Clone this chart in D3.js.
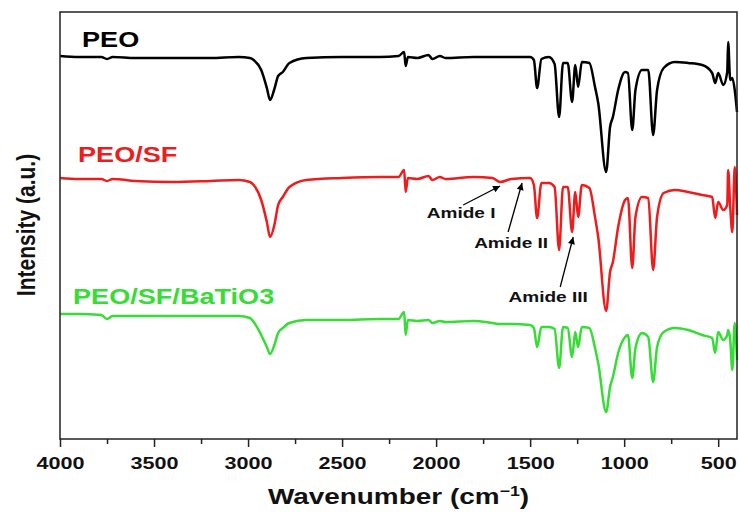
<!DOCTYPE html>
<html>
<head>
<meta charset="utf-8">
<script src="https://cdn.jsdelivr.net/npm/d3@7"></script>
<style>
  body { margin: 0; background: #fff; }
  text { font-family: "Liberation Sans", Arial, sans-serif; font-weight: bold; }
</style>
</head>
<body>
<div id="chart"></div>
<script>
// FTIR spectra (intensity in arbitrary units)
const wavenumbers = [4000, 3900, 3780, 3750, 3720, 3600, 3400, 3200, 3050, 2990,
    2970, 2930, 2900, 2883, 2860, 2840, 2815, 2780, 2690, 2500,
    2300, 2200, 2170, 2162, 2150, 2100, 2040, 2020, 1980, 1950,
    1800, 1700, 1660, 1600, 1500, 1480, 1463, 1440, 1400, 1370,
    1346, 1325, 1300, 1277, 1260, 1245, 1225, 1185, 1155, 1138,
    1096, 1075, 1060, 1032, 995, 980, 957, 940, 905, 872,
    846, 825, 790, 730, 660, 585, 532, 516, 500, 473,
    452, 447, 436, 425, 412, 400];

const peo = [383, 382, 382, 380, 382, 381, 381, 381, 382, 381,
    379, 369, 351, 339, 350, 363, 367, 376, 381, 382,
    382, 383, 387, 373, 382, 381, 384, 380, 383, 381,
    382, 382, 382, 382, 382, 379, 351, 380, 382, 375,
    322, 376, 376, 337, 374, 352, 377, 376, 352, 336,
    267, 312, 322, 349, 367, 366, 309, 349, 369, 369,
    304, 349, 371, 377, 376, 374, 366, 356, 366, 354,
    367, 397, 359, 361, 349, 327];

const peoSf = [261, 260, 260, 258, 260, 258, 257, 258, 259, 257,
    254, 239, 217, 202, 214, 234, 242, 252, 259, 261,
    262, 262, 269, 247, 261, 260, 263, 259, 262, 260,
    262, 261, 257, 260, 261, 254, 221, 256, 256, 252,
    189, 252, 252, 207, 247, 222, 254, 251, 222, 202,
    128, 167, 177, 212, 239, 241, 171, 222, 242, 241,
    169, 222, 246, 249, 247, 244, 242, 221, 237, 229,
    234, 269, 232, 207, 272, 224];

const peoSfBto = [125, 125, 124, 120, 123, 123, 123, 123, 123, 121,
    117, 104, 92, 85, 94, 106, 111, 116, 119, 119,
    120, 120, 127, 104, 119, 118, 119, 116, 118, 117,
    118, 116, 115, 115, 114, 111, 92, 112, 112, 110,
    71, 112, 111, 82, 107, 92, 112, 111, 91, 76,
    27, 52, 62, 86, 102, 104, 61, 91, 106, 102,
    57, 92, 107, 111, 109, 104, 101, 86, 107, 99,
    104, 109, 99, 69, 116, 79];

const seriesNames = ["PEO", "PEO/SF", "PEO/SF/BaTiO3"];
const seriesColors = ["#000000", "#ee1c1c", "#35dd35"];
const seriesValues = [peo, peoSf, peoSfBto];

const xTicks = [4000, 3500, 3000, 2500, 2000, 1500, 1000, 500];
const xMinorTicks = [3750, 3250, 2750, 2250, 1750, 1250, 750];

// amide band annotations: arrow tip, arrow tail and label anchor (wavenumber, a.u.)
const amideLabels = ["Amide I", "Amide II", "Amide III"];
const amideTipW = [1660, 1543, 1271];
const amideTipV = [253, 256, 202];
const amideTailW = [1856, 1617, 1340];
const amideTailV = [234, 207, 152];
const amideTextW = [1867, 1601, 1404];
const amideTextV = [221, 191, 137];

let width = 739, height = 512;
let margin = {top: 12, right: 2, bottom: 73, left: 60};
let plot_w = width - margin.left - margin.right;
let plot_h = height - margin.top - margin.bottom;
const STRETCH = 1.27; // the original figure is a bit wider than tall

let svg = d3.select("#chart")
    .append("svg")
    .attr("width", width)
    .attr("height", height);

let g = svg.append("g")
    .attr("transform", `translate(${margin.left}, ${margin.top})`);

let x = d3.scaleLinear()
    .domain([4000, 400])
    .range([0, plot_w]);

let y = d3.scaleLinear()
    .domain([0, 427])
    .range([plot_h, 0]);

// arrow marker
svg.append("defs").append("marker")
    .attr("id", "arrow")
    .attr("viewBox", "0 0 10 10")
    .attr("refX", 10).attr("refY", 5)
    .attr("markerWidth", 9).attr("markerHeight", 7)
    .attr("markerUnits", "userSpaceOnUse")
    .attr("orient", "auto")
    .append("path")
    .attr("d", "M0,0 L10,5 L0,10 z")
    .attr("fill", "#000");

// spectra
let line = d3.line()
    .x((d, i) => x(wavenumbers[i]))
    .y(d => y(d))
    .curve(d3.curveMonotoneX);

seriesValues.forEach((vals, k) => {
    g.append("path")
        .datum(vals)
        .attr("d", line)
        .attr("fill", "none")
        .attr("stroke", seriesColors[k])
        .attr("stroke-width", 2.5)
        .attr("stroke-linejoin", "round");
});

// frame
g.append("rect")
    .attr("width", plot_w)
    .attr("height", plot_h)
    .attr("fill", "none")
    .attr("stroke", "#222")
    .attr("stroke-width", 1.5);

// x axis, major and minor ticks
let xAxis = g.append("g")
    .attr("transform", `translate(0, ${plot_h})`)
    .call(d3.axisBottom(x).tickValues(xTicks).tickFormat(d3.format("d")).tickSize(8).tickSizeOuter(0));
xAxis.select(".domain").remove();
xAxis.selectAll("line").attr("stroke", "#222").attr("stroke-width", 1.5);
xAxis.selectAll("text")
    .attr("y", 30).attr("dy", 0)
    .attr("fill", "#111")
    .style("font-size", "17px")
    .attr("transform", `scale(${STRETCH},1)`);

let xMinor = g.append("g")
    .attr("transform", `translate(0, ${plot_h})`)
    .call(d3.axisBottom(x).tickValues(xMinorTicks).tickSize(5).tickFormat(""));
xMinor.select(".domain").remove();
xMinor.selectAll("line").attr("stroke", "#222").attr("stroke-width", 1.5);

// axis titles
let xTitle = svg.append("text")
    .attr("text-anchor", "middle")
    .attr("transform", `translate(${margin.left + plot_w / 2}, 504) scale(${STRETCH},1)`)
    .style("font-size", "22px")
    .attr("fill", "#111");
xTitle.append("tspan").text("Wavenumber (cm");
xTitle.append("tspan").text("\u22121").attr("dy", -8).style("font-size", "14px");
xTitle.append("tspan").text(")").attr("dy", 8);

svg.append("text")
    .attr("text-anchor", "middle")
    .attr("transform", `translate(35, 225) scale(${STRETCH},1) rotate(-90)`)
    .style("font-size", "21px")
    .attr("fill", "#111")
    .text("Intensity (a.u.)");

// series labels
const labelPos = [[82, 47], [78, 162], [73, 304]];
seriesNames.forEach((name, k) => {
    svg.append("text")
        .attr("transform", `translate(${labelPos[k][0]}, ${labelPos[k][1]}) scale(${STRETCH * 0.97},1)`)
        .style("font-size", "22px")
        .attr("fill", seriesColors[k])
        .text(name);
});

// amide annotations
amideLabels.forEach((lab, k) => {
    g.append("line")
        .attr("x1", x(amideTailW[k])).attr("y1", y(amideTailV[k]))
        .attr("x2", x(amideTipW[k])).attr("y2", y(amideTipV[k]))
        .attr("stroke", "#000")
        .attr("stroke-width", 1.3)
        .attr("marker-end", "url(#arrow)");
    g.append("text")
        .attr("text-anchor", "middle")
        .attr("transform", `translate(${x(amideTextW[k])}, ${y(amideTextV[k])}) scale(${STRETCH},1)`)
        .style("font-size", "15px")
        .attr("fill", "#111")
        .text(lab);
});
</script>
</body>
</html>
